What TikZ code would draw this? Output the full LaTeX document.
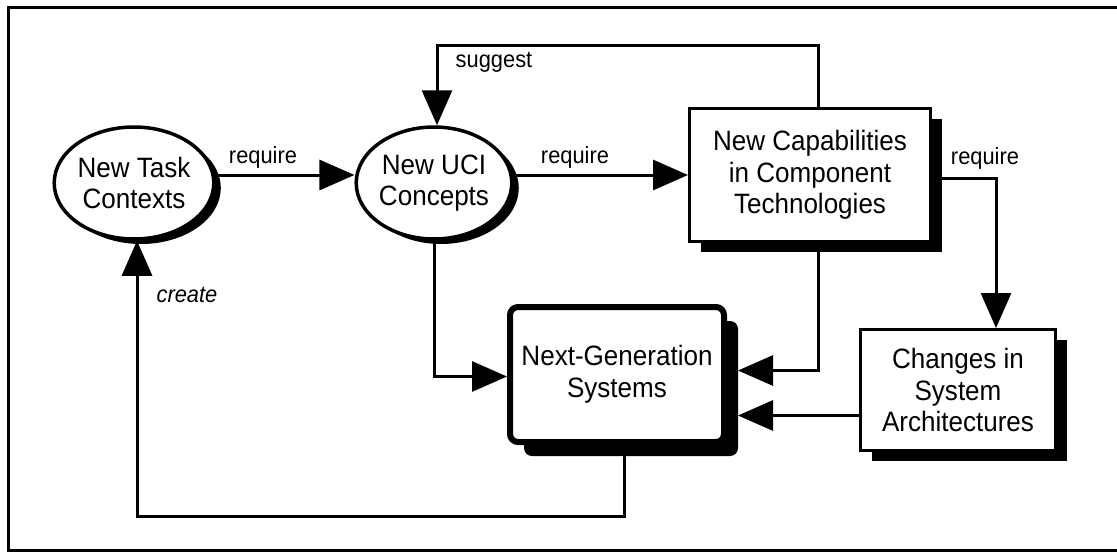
\documentclass[tikz,border=0pt]{standalone}
\usepackage{fontspec}
\setmainfont{Liberation Sans}[FakeStretch=0.93]
\usetikzlibrary{arrows.meta,shadows,calc,shapes.geometric}
\begin{document}
\begin{tikzpicture}[x=1pt,y=-1pt,
  bigtext/.style={font=\fontsize{28pt}{31.5pt}\selectfont, align=center, inner sep=0pt},
  lbl/.style={font=\fontsize{23.5pt}{27pt}\selectfont, inner sep=0pt},
  ovalnode/.style={bigtext, ellipse, draw, line width=3.5pt, fill=white,
    minimum width=140pt, minimum height=112pt,
    drop shadow={shadow xshift=7pt, shadow yshift=-5pt, opacity=1, fill=black}},
  boxnode/.style={bigtext, rectangle, draw, line width=3pt, fill=white,
    drop shadow={shadow xshift=11pt, shadow yshift=-10pt, opacity=1, fill=black}},
  keynode/.style={bigtext, rectangle, draw, line width=6pt, fill=white, rounded corners=8pt,
    drop shadow={shadow xshift=14pt, shadow yshift=-14pt, opacity=1, fill=black}},
  arr/.style={line width=3pt, -{Triangle[length=35pt,width=30pt]}},
  conn/.style={line width=3pt}
]
\clip (0,0) rectangle (1117,552);
\fill[white] (0,0) rectangle (1117,552);

% outer frame
\draw[line width=3pt] (8,7) rectangle (1130,550);

% nodes
\node[ovalnode] (ctx) at (134,183) {New Task\\Contexts};
\node[ovalnode] (uci) at (434,183) {New UCI\\Concepts};
\node[boxnode, minimum width=241pt, minimum height=133pt] (cap) at (810,175)
  {New Capabilities\\in Component\\Technologies};
\node[boxnode, minimum width=195pt, minimum height=121pt] (chg) at (958,390)
  {Changes in\\System\\Architectures};
\node[keynode, minimum width=214pt, minimum height=135pt] (nxt) at (617,374.5)
  {Next-Generation\\Systems};

% connectors
\draw[arr] ($(ctx.east)+(0,-8)$) -- ($(uci.west)+(0,-8)$);
\draw[arr] ($(uci.east)+(0,-8)$) -- (cap.west);
\draw[arr] ($(cap.north)+(8,0)$) -- ++(0,-62) -| ($(uci.north)+(3,0)$);
\draw[arr] ($(cap.east)+(0,3)$) -| ($(chg.north)+(38,0)$);
\draw[arr] (uci.south) |- ($(nxt.west)+(0,2)$);
\coordinate (capin) at ($(nxt.east)+(11,-4)$);
\coordinate (chgin) at ($(nxt.east)+(11,41)$);
\draw[arr] ($(cap.south)+(8,0)$) |- (capin);
\draw[arr] (chg.west |- chgin) -- (chgin);
\coordinate (loop) at ($(ctx.south)+(3,276)$);
\draw[arr] ($(nxt.south)+(7,0)$) |- (loop) -- ($(ctx.south)+(3,0)$);

% connector labels
\node[lbl] (req1) at (263,157) {require};
\node[lbl] (req2) at (575,157) {require};
\node[lbl] (req3) at (985,158) {require};
\node[lbl] (sug) at (494,62) {suggest};
\node[lbl, font=\fontsize{23.5pt}{27pt}\selectfont\itshape] (crt) at (187,295) {create};
\end{tikzpicture}
\end{document}
